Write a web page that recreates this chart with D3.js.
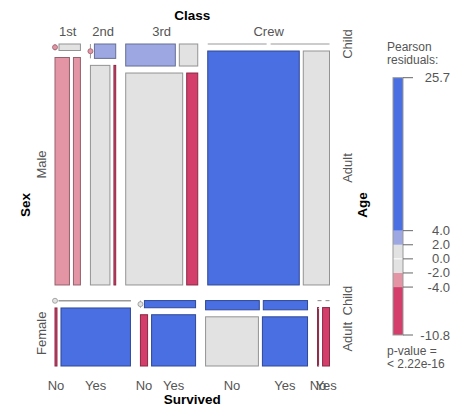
<!DOCTYPE html>
<html>
<head>
<meta charset="utf-8">
<script src="https://cdn.jsdelivr.net/npm/d3@7"></script>
<style>
  body { margin: 0; background: #fff; }
  svg text { font-family: "Liberation Sans", Arial, sans-serif; }
</style>
</head>
<body>
<div id="chart"></div>
<script>
// Titanic counts, [No, Yes] for each class
const classes = ["1st", "2nd", "3rd", "Crew"];
const sexes = ["Male", "Female"];
const ages = ["Child", "Adult"];
const survived = ["No", "Yes"];

const maleChild   = [[0, 5], [0, 11], [35, 13], [0, 0]];
const maleAdult   = [[118, 57], [154, 14], [387, 75], [670, 192]];
const femaleChild = [[0, 1], [0, 13], [17, 14], [0, 0]];
const femaleAdult = [[4, 140], [13, 80], [89, 76], [3, 20]];

const legendTicks = [25.7, 4, 2, 0, -2, -4, -10.8];
const residualCuts = [-4, -2, 2, 4];
const shadeColors = ["#D33F6A", "#E495A5", "#E2E2E2", "#9DA8E2", "#4A6FE3"];

// counts[sex][class][age][surv]
const counts = [
  classes.map((c, i) => [maleChild[i], maleAdult[i]]),
  classes.map((c, i) => [femaleChild[i], femaleAdult[i]])
];

const W = 460, H = 407;
const X0 = 55, X1 = 329.5, Y0 = 44, Y1 = 366;
const gap = { sex: 15.6, cls: 10, age: 7, surv: 4 };

// residuals under mutual independence
const N = d3.sum(counts.flat(3));
const pSex = counts.map(s => d3.sum(s.flat(2)) / N);
const pCls = classes.map((c, i) => d3.sum(counts.map(s => s[i]).flat(2)) / N);
const pAge = ages.map((a, k) => d3.sum(counts.flatMap(s => s.map(c => c[k])).flat()) / N);
const pSurv = survived.map((v, m) => d3.sum(counts.flatMap(s => s.flatMap(c => c.map(a => a[m])))) / N);

const color = d3.scaleThreshold().domain(residualCuts).range(shadeColors);
const border = c => d3.color(c).darker(1.2).formatHex();

// split [start,end] proportionally to values with gaps
function split(values, start, end, g) {
  const tot = d3.sum(values);
  const avail = (end - start) - g * (values.length - 1);
  const props = tot > 0 ? values.map(v => v / tot) : values.map(() => 1 / values.length);
  const s = d3.scaleLinear().domain([0, 1]).range([0, avail]);
  let pos = start, out = [];
  props.forEach(p => { out.push([pos, pos + s(p)]); pos += s(p) + g; });
  return out;
}

const svg = d3.select("#chart").append("svg")
  .attr("width", W).attr("height", H);

const sexSeg = split(counts.map(s => d3.sum(s.flat(2))), Y0, Y1, gap.sex);
const classCenters = [], survCenters = [], ageCenters = [];

counts.forEach((sData, si) => {
  const [sy0, sy1] = sexSeg[si];
  const clsSeg = split(sData.map(c => d3.sum(c.flat())), X0, X1, gap.cls);
  sData.forEach((cData, ci) => {
    const [cx0, cx1] = clsSeg[ci];
    if (si === 0) classCenters.push((cx0 + cx1) / 2);
    const ageSeg = split(cData.map(a => d3.sum(a)), sy0, sy1, gap.age);
    cData.forEach((aData, ai) => {
      const [ay0, ay1] = ageSeg[ai];
      if (ci === classes.length - 1) ageCenters.push({ sex: si, age: ai, y: (ay0 + ay1) / 2 });
      const rowTot = d3.sum(aData);
      const survSeg = split(aData, cx0, cx1, gap.surv);
      aData.forEach((n, vi) => {
        const [vx0, vx1] = survSeg[vi];
        if (si === 1 && ai === 1) survCenters.push((vx0 + vx1) / 2);
        const exp = N * pSex[si] * pCls[ci] * pAge[ai] * pSurv[vi];
        const res = (n - exp) / Math.sqrt(exp);
        const fill = color(res);
        const w = vx1 - vx0, h = ay1 - ay0;
        if (rowTot === 0) {
          svg.append("line")
            .attr("x1", vx0).attr("x2", vx1).attr("y1", ay0).attr("y2", ay0)
            .attr("stroke", "#999").attr("stroke-width", 1.2);
        } else if (n === 0) {
          svg.append("line")
            .attr("x1", vx0).attr("x2", vx0).attr("y1", ay0).attr("y2", ay1)
            .attr("stroke", "#999").attr("stroke-width", 1);
          svg.append("circle")
            .attr("cx", vx0).attr("cy", (ay0 + ay1) / 2).attr("r", 2.5)
            .attr("fill", fill).attr("stroke", border(fill)).attr("stroke-width", 0.8);
        } else {
          svg.append("rect")
            .attr("x", vx0).attr("y", ay0)
            .attr("width", Math.max(w, 0.1)).attr("height", Math.max(h, 0.1))
            .attr("fill", fill).attr("stroke", border(fill)).attr("stroke-width", 1);
        }
      });
    });
  });
});

const lab = "#555";
// top: Class
svg.append("text").attr("x", (X0 + X1) / 2).attr("y", 15)
  .attr("text-anchor", "middle").attr("dominant-baseline", "central")
  .style("font-size", "13.5px").style("font-weight", "bold").text("Class");
classes.forEach((c, i) => {
  svg.append("text").attr("x", classCenters[i]).attr("y", 31)
    .attr("text-anchor", "middle").attr("dominant-baseline", "central")
    .style("font-size", "13px").attr("fill", lab).text(c);
});

// bottom: Survived
counts[1].forEach((c, ci) => {
  survived.forEach((v, vi) => {
    svg.append("text").attr("x", survCenters[ci * 2 + vi]).attr("y", 385)
      .attr("text-anchor", "middle").attr("dominant-baseline", "central")
      .style("font-size", "13px").attr("fill", lab).text(v);
  });
});
svg.append("text").attr("x", (X0 + X1) / 2).attr("y", 399)
  .attr("text-anchor", "middle").attr("dominant-baseline", "central")
  .style("font-size", "13.5px").style("font-weight", "bold").text("Survived");

// left: Sex
sexes.forEach((s, i) => {
  const cy = (sexSeg[i][0] + sexSeg[i][1]) / 2;
  svg.append("text").attr("transform", `translate(41,${cy}) rotate(-90)`)
    .attr("text-anchor", "middle").attr("dominant-baseline", "central")
    .style("font-size", "13px").attr("fill", lab).text(s);
});
svg.append("text").attr("transform", `translate(25,${(Y0 + Y1) / 2}) rotate(-90)`)
  .attr("text-anchor", "middle").attr("dominant-baseline", "central")
  .style("font-size", "13.5px").style("font-weight", "bold").text("Sex");

// right: Age
ageCenters.forEach(d => {
  svg.append("text").attr("transform", `translate(347,${d.y}) rotate(-90)`)
    .attr("text-anchor", "middle").attr("dominant-baseline", "central")
    .style("font-size", "13px").attr("fill", lab).text(ages[d.age]);
});
svg.append("text").attr("transform", `translate(362,${(Y0 + Y1) / 2}) rotate(-90)`)
  .attr("text-anchor", "middle").attr("dominant-baseline", "central")
  .style("font-size", "13.5px").style("font-weight", "bold").text("Age");

// legend
const ly = d3.scaleLinear().domain([-10.8, 25.7]).range([335, 77.7]);
const bounds = [-10.8, ...residualCuts, 25.7];
const lg = svg.append("g");
d3.range(bounds.length - 1).forEach(i => {
  lg.append("rect").attr("x", 393).attr("width", 10)
    .attr("y", ly(bounds[i + 1])).attr("height", ly(bounds[i]) - ly(bounds[i + 1]))
    .attr("fill", shadeColors[i]);
});
lg.append("line").attr("x1", 393).attr("x2", 403).attr("y1", ly(0)).attr("y2", ly(0))
  .attr("stroke", "#fff").attr("stroke-width", 1);
lg.append("rect").attr("x", 393).attr("width", 10)
  .attr("y", ly(25.7)).attr("height", ly(-10.8) - ly(25.7))
  .attr("fill", "none").attr("stroke", "#999").attr("stroke-width", 1);
const fmt = t => d3.format(".1f")(t).replace("\u2212", "-");
legendTicks.forEach(t => {
  lg.append("line").attr("x1", 403).attr("x2", 413).attr("y1", ly(t)).attr("y2", ly(t))
    .attr("stroke", "#666");
  lg.append("text").attr("x", 450).attr("y", ly(t))
    .attr("text-anchor", "end").attr("dominant-baseline", "central")
    .style("font-size", "13px").attr("fill", lab).text(fmt(t));
});
[["Pearson", 47], ["residuals:", 60], ["p-value =", 351], ["< 2.22e-16", 364]].forEach(([t, y]) => {
  lg.append("text").attr("x", 387).attr("y", y).attr("dominant-baseline", "central")
    .style("font-size", "12px").attr("fill", lab).text(t);
});
</script>
</body>
</html>
